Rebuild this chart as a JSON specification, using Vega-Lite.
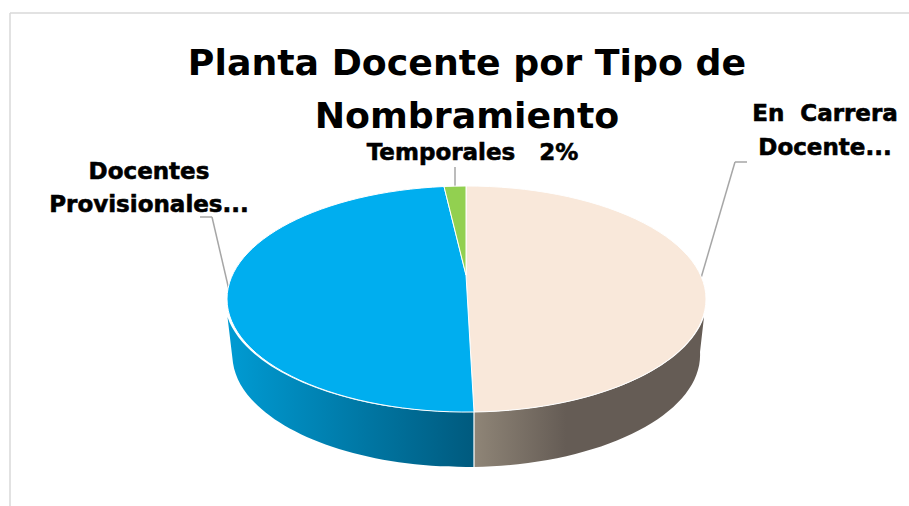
{
"$schema":"https://vega.github.io/schema/vega-lite/v6.json",
"width":909,"height":506,"padding":0,"autosize":"none",
"background":"white",
"title":{"text":["Planta Docente por Tipo de","Nombramiento"],"font":"DejaVu Sans","fontWeight":"bold","fontSize":36.3,"color":"#000000","lineHeight":53,"anchor":"middle","frame":"group","dx":12.5,"offset":-135},
"config":{"view":{"stroke":null}},
"data":{"values":[
{"tipo":"En Carrera Docente","porcentaje":50,"etiqueta":"En\u00A0\u00A0Carrera\nDocente..."},
{"tipo":"Docentes Provisionales","porcentaje":48,"etiqueta":"Docentes\nProvisionales..."},
{"tipo":"Temporales","porcentaje":2,"etiqueta":"Temporales\u00A0\u00A0\u00A02%"}
]},
"encoding":{
"x":{"datum":466.5,"type":"quantitative","scale":{"domain":[0,909],"nice":false,"zero":false},"axis":null},
"y":{"datum":299,"type":"quantitative","scale":{"domain":[506,0],"nice":false,"zero":false},"axis":null}
},
"layer":[
{"transform":[{"filter":"datum.tipo==='Temporales'"}],"mark":{"type":"rule","stroke":"#D9D9D9","strokeWidth":1.5},"encoding":{"x":{"datum":10},"x2":{"datum":909},"y":{"datum":13},"y2":{"datum":13}}},
{"transform":[{"filter":"datum.tipo==='Temporales'"}],"mark":{"type":"rule","stroke":"#D9D9D9","strokeWidth":1.5},"encoding":{"x":{"datum":10},"x2":{"datum":10},"y":{"datum":13},"y2":{"datum":506}}},
{"transform":[{"filter":"datum.tipo==='En Carrera Docente'"}],"mark":{"type":"rule","stroke":"#A6A6A6","strokeWidth":1.5},"encoding":{"x":{"datum":701},"x2":{"datum":735},"y":{"datum":278},"y2":{"datum":162}}},
{"transform":[{"filter":"datum.tipo==='En Carrera Docente'"}],"mark":{"type":"rule","stroke":"#A6A6A6","strokeWidth":1.5},"encoding":{"x":{"datum":735},"x2":{"datum":747},"y":{"datum":162},"y2":{"datum":162}}},
{"transform":[{"filter":"datum.tipo==='Docentes Provisionales'"}],"mark":{"type":"rule","stroke":"#A6A6A6","strokeWidth":1.5},"encoding":{"x":{"datum":200},"x2":{"datum":212},"y":{"datum":217},"y2":{"datum":217}}},
{"transform":[{"filter":"datum.tipo==='Docentes Provisionales'"}],"mark":{"type":"rule","stroke":"#A6A6A6","strokeWidth":1.5},"encoding":{"x":{"datum":212},"x2":{"datum":229},"y":{"datum":217},"y2":{"datum":290}}},
{"transform":[{"filter":"datum.tipo==='Temporales'"}],"mark":{"type":"rule","stroke":"#A6A6A6","strokeWidth":1.5},"encoding":{"x":{"datum":455},"x2":{"datum":455},"y":{"datum":167},"y2":{"datum":187}}},
{"transform":[{"filter":"datum.tipo==='En Carrera Docente'"}],
 "mark":{"type":"point","filled":true,"opacity":1,"size":4,"strokeWidth":0,"shape":"M7.5 113 A239.5 113 0 0 0 237.5 18 L233.5 53 A234 112 0 0 1 7.5 168 Z",
  "fill":{"gradient":"linear","x1":0,"x2":1,"y1":0,"y2":0,"stops":[{"offset":0,"color":"#8F8577"},{"offset":0.4,"color":"#655C55"},{"offset":1,"color":"#655C55"}]}}},
{"transform":[{"filter":"datum.tipo==='Docentes Provisionales'"}],
 "mark":{"type":"point","filled":true,"opacity":1,"size":4,"strokeWidth":0,"shape":"M7.5 113 A239.5 113 0 0 1 -239 18 L-233.5 64 A234 112 0 0 0 7.5 168 Z",
  "fill":{"gradient":"linear","x1":0,"x2":1,"y1":0,"y2":0,"stops":[{"offset":0,"color":"#009BD3"},{"offset":1,"color":"#005A7E"}]}}},
{"transform":[{"filter":"datum.tipo==='Temporales'"}],"mark":{"type":"rule","stroke":"#FFFFFF","strokeWidth":1.2},"encoding":{"x":{"datum":474},"x2":{"datum":474},"y":{"datum":412},"y2":{"datum":467}}},
{"mark":{"type":"point","filled":true,"opacity":1,"size":4,"stroke":"#FFFFFF","strokeWidth":1},
 "encoding":{
  "shape":{"field":"tipo","type":"nominal","legend":null,"scale":{"domain":["En Carrera Docente","Docentes Provisionales","Temporales"],"range":[
   "M-0.5 -24 L-0.5 -113 A239.5 113 0 0 1 239.5 0 A239.5 113 0 0 1 7.5 113 Z",
   "M-0.5 -24 L7.5 113 A239.5 113 0 0 1 -239.5 0 A239.5 113 0 0 1 -22.5 -112.5 Z",
   "M-0.5 -24 L-22.5 -112.5 A239.5 113 0 0 1 -0.5 -113 Z"]}},
  "fill":{"field":"tipo","type":"nominal","legend":null,"scale":{"domain":["En Carrera Docente","Docentes Provisionales","Temporales"],"range":["#F9E8DA","#00AEEF","#92D050"]}}
 }},
{"transform":[{"filter":"datum.tipo==='En Carrera Docente'"}],"mark":{"type":"text","font":"DejaVu Sans","fontWeight":"bold","fontSize":23,"stroke":"#000000","strokeWidth":0.6,"lineBreak":"\n","lineHeight":34,"align":"center","baseline":"alphabetic","color":"#000000"},"encoding":{"text":{"field":"etiqueta"},"x":{"datum":825},"y":{"datum":121}}},
{"transform":[{"filter":"datum.tipo==='Docentes Provisionales'"}],"mark":{"type":"text","font":"DejaVu Sans","fontWeight":"bold","fontSize":23,"stroke":"#000000","strokeWidth":0.6,"lineBreak":"\n","lineHeight":33,"align":"center","baseline":"alphabetic","color":"#000000"},"encoding":{"text":{"field":"etiqueta"},"x":{"datum":149},"y":{"datum":179}}},
{"transform":[{"filter":"datum.tipo==='Temporales'"}],"mark":{"type":"text","font":"DejaVu Sans","fontWeight":"bold","fontSize":23,"stroke":"#000000","strokeWidth":0.6,"align":"center","baseline":"alphabetic","color":"#000000"},"encoding":{"text":{"field":"etiqueta"},"x":{"datum":472.5},"y":{"datum":160}}}
]
}
